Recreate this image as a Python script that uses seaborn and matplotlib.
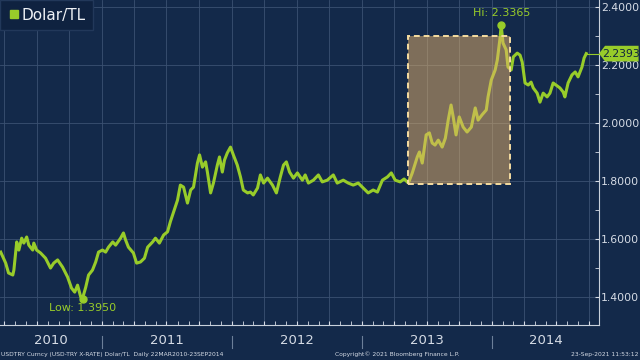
import numpy as np
import pandas as pd
import seaborn as sns
import matplotlib.pyplot as plt
import matplotlib.dates as mdates
from matplotlib.lines import Line2D
from matplotlib.patches import Rectangle, Polygon
from matplotlib.ticker import MultipleLocator, FormatStrFormatter

# USD/TRY
dates = [
    "2010-03-22", "2010-04-05", "2010-04-13", "2010-04-25", "2010-04-28", "2010-05-06", "2010-05-12",
    "2010-05-20", "2010-05-26", "2010-06-03", "2010-06-09", "2010-06-20", "2010-06-23", "2010-07-01",
    "2010-07-12", "2010-07-26", "2010-08-09", "2010-08-18", "2010-08-29", "2010-09-12", "2010-09-26",
    "2010-10-07", "2010-10-16", "2010-10-24", "2010-11-02", "2010-11-07", "2010-11-16", "2010-11-24",
    "2010-12-05", "2010-12-14", "2010-12-22", "2011-01-02", "2011-01-11", "2011-01-19", "2011-01-31",
    "2011-02-08", "2011-02-22", "2011-03-02", "2011-03-08", "2011-03-16", "2011-03-30", "2011-04-08",
    "2011-04-19", "2011-04-30", "2011-05-09", "2011-05-23", "2011-05-31", "2011-06-11", "2011-06-23",
    "2011-07-04", "2011-07-12", "2011-07-21", "2011-08-01", "2011-08-09", "2011-08-18", "2011-08-29",
    "2011-09-07", "2011-09-15", "2011-09-26", "2011-10-02", "2011-10-10", "2011-10-19", "2011-10-24",
    "2011-11-02", "2011-11-10", "2011-11-21", "2011-11-27", "2011-12-05", "2011-12-11", "2011-12-19",
    "2011-12-28", "2012-01-05", "2012-01-16", "2012-01-25", "2012-02-02", "2012-02-14", "2012-02-22",
    "2012-03-01", "2012-03-13", "2012-03-21", "2012-03-30", "2012-04-10", "2012-04-24", "2012-05-05",
    "2012-05-16", "2012-05-25", "2012-06-02", "2012-06-11", "2012-06-22", "2012-07-03", "2012-07-17",
    "2012-07-25", "2012-08-03", "2012-08-17", "2012-08-31", "2012-09-11", "2012-09-25", "2012-10-12",
    "2012-10-23", "2012-11-09", "2012-11-23", "2012-12-07", "2012-12-21", "2013-01-04", "2013-01-18",
    "2013-02-01", "2013-02-13", "2013-02-27", "2013-03-13", "2013-03-24", "2013-04-04", "2013-04-18",
    "2013-04-29", "2013-05-11", "2013-05-22", "2013-06-05", "2013-06-11", "2013-06-19", "2013-06-30",
    "2013-07-09", "2013-07-17", "2013-07-25", "2013-08-03", "2013-08-14", "2013-08-23", "2013-08-31",
    "2013-09-08", "2013-09-14", "2013-09-22", "2013-10-01", "2013-10-12", "2013-10-23", "2013-11-04",
    "2013-11-15", "2013-11-23", "2013-12-04", "2013-12-16", "2013-12-21", "2013-12-30", "2014-01-10",
    "2014-01-16", "2014-01-23", "2014-01-27", "2014-02-01", "2014-02-10", "2014-02-15", "2014-02-24",
    "2014-03-02", "2014-03-13", "2014-03-21", "2014-03-27", "2014-03-30", "2014-04-04", "2014-04-13",
    "2014-04-21", "2014-04-27", "2014-05-08", "2014-05-16", "2014-05-25", "2014-06-05", "2014-06-13",
    "2014-06-22", "2014-06-30", "2014-07-11", "2014-07-20", "2014-07-25", "2014-08-03", "2014-08-14",
    "2014-08-23", "2014-08-31", "2014-09-11", "2014-09-17", "2014-09-23",
]
rates = [
    1.555, 1.517, 1.483, 1.476, 1.493, 1.590, 1.562,
    1.603, 1.586, 1.607, 1.579, 1.562, 1.586, 1.562,
    1.552, 1.534, 1.500, 1.517, 1.528, 1.503, 1.469,
    1.431, 1.417, 1.441, 1.400, 1.395, 1.434, 1.476,
    1.493, 1.521, 1.555, 1.562, 1.555, 1.572, 1.590,
    1.579, 1.603, 1.621, 1.597, 1.572, 1.552, 1.517,
    1.521, 1.534, 1.572, 1.590, 1.603, 1.586, 1.614,
    1.625, 1.660, 1.693, 1.734, 1.786, 1.779, 1.724,
    1.769, 1.779, 1.862, 1.890, 1.848, 1.866, 1.831,
    1.759, 1.793, 1.855, 1.883, 1.831, 1.872, 1.897,
    1.917, 1.890, 1.855, 1.814, 1.769, 1.759, 1.762,
    1.752, 1.776, 1.821, 1.793, 1.810, 1.786, 1.759,
    1.814, 1.855, 1.866, 1.831, 1.810, 1.828, 1.803,
    1.821, 1.793, 1.803, 1.821, 1.797, 1.803, 1.821,
    1.793, 1.803, 1.793, 1.786, 1.793, 1.776, 1.759,
    1.769, 1.762, 1.803, 1.814, 1.828, 1.803, 1.797,
    1.807, 1.793, 1.828, 1.883, 1.900, 1.862, 1.959,
    1.966, 1.931, 1.924, 1.941, 1.917, 1.948, 2.010,
    2.062, 2.021, 1.959, 2.021, 1.986, 1.969, 1.986,
    2.052, 2.010, 2.028, 2.045, 2.090, 2.148, 2.183,
    2.217, 2.286, 2.3365, 2.276, 2.252, 2.193, 2.183,
    2.228, 2.241, 2.234, 2.210, 2.183, 2.138, 2.131,
    2.141, 2.121, 2.103, 2.072, 2.103, 2.090, 2.103,
    2.138, 2.131, 2.121, 2.107, 2.090, 2.138, 2.166,
    2.176, 2.159, 2.193, 2.224, 2.2393,
]

box_start, box_end = "2013-05-10", "2014-02-20"
box_low, box_high = 1.79, 2.30
year_labels = ["2010", "2011", "2012", "2013", "2014"]

bg = "#13294a"
green = "#98cc2a"
txt = "#d6dce6"

df = pd.DataFrame({"date": pd.to_datetime(dates), "rate": rates})

fig = plt.figure(figsize=(6.4, 3.6), dpi=100, facecolor=bg)
ax = fig.add_axes([0, 0.097, 0.936, 0.903])
ax.set_facecolor(bg)

sns.lineplot(data=df, x="date", y="rate", ax=ax, color=green, linewidth=2.2, zorder=3)

xmin, xmax = pd.Timestamp("2010-03-20"), pd.Timestamp("2014-10-29")
ax.set_xlim(xmin, xmax)
ax.set_ylim(1.3034, 2.4241)

# grid
ax.xaxis.set_major_locator(mdates.MonthLocator(bymonth=[1, 4, 7, 10]))
ax.xaxis.set_minor_locator(mdates.MonthLocator())
ax.yaxis.set_major_locator(MultipleLocator(0.2))
ax.yaxis.set_minor_locator(MultipleLocator(0.1))
ax.yaxis.set_major_formatter(FormatStrFormatter("%.4f"))
ax.grid(True, which="major", color="#3b5172", linewidth=0.6)
ax.tick_params(axis="x", which="both", direction="in", length=3, color=txt, labelbottom=False)
ax.yaxis.tick_right()
ax.tick_params(axis="y", which="both", direction="in", length=3, color=txt,
               labelcolor=txt, labelsize=7.8, pad=1.5)
ax.set_xlabel("")
ax.set_ylabel("")
for s in ["top", "left"]:
    ax.spines[s].set_visible(False)
for s in ["right", "bottom"]:
    ax.spines[s].set_color("#c9d1dc")
    ax.spines[s].set_linewidth(0.8)

# highlight box
x0, x1 = mdates.date2num(pd.Timestamp(box_start)), mdates.date2num(pd.Timestamp(box_end))
ax.add_patch(Rectangle((x0, box_low), x1 - x0, box_high - box_low, facecolor="#e9b46a",
                       alpha=0.5, edgecolor="none", zorder=4))
ax.add_patch(Rectangle((x0, box_low), x1 - x0, box_high - box_low, facecolor="none",
                       edgecolor="#f6dca0", linestyle=(0, (3, 2)), linewidth=1.4, zorder=5))

# hi / low markers
hi_i = int(np.argmax(rates))
lo_i = int(np.argmin(rates))
ax.plot(df["date"][hi_i], rates[hi_i], "o", color=green, markersize=5, zorder=6)
ax.plot(df["date"][lo_i], rates[lo_i], "o", color=green, markersize=5, zorder=6)
ax.annotate(f"Hi: {rates[hi_i]:.4f}", (df["date"][hi_i], rates[hi_i]), xytext=(0, 5),
            textcoords="offset points", ha="center", va="bottom", color=green, fontsize=8)
ax.annotate(f"Low: {rates[lo_i]:.4f}", (df["date"][lo_i], rates[lo_i]), xytext=(0, -3),
            textcoords="offset points", ha="center", va="top", color=green, fontsize=8)

# last value tag
last = rates[-1]
ax.plot([df["date"].iloc[-1], xmax], [last, last], color=green, linewidth=0.8, clip_on=False, zorder=6)
trans = ax.get_yaxis_transform()
tag = Polygon([(1.0, last), (1.01, last + 0.027), (1.066, last + 0.027), (1.066, last - 0.027),
               (1.01, last - 0.027)], closed=True, transform=trans, facecolor=green,
              edgecolor="none", clip_on=False, zorder=7)
ax.add_patch(tag)
ax.text(1.037, last, f"{last:.4f}", transform=trans, ha="center", va="center",
        fontsize=7.8, color="#10233f", zorder=8, clip_on=False)

# year labels and separators below axis
xtrans = ax.get_xaxis_transform()
lo_num, hi_num = mdates.date2num(xmin), mdates.date2num(xmax)
for i, yl in enumerate(year_labels):
    a = max(mdates.date2num(pd.Timestamp(f"{yl}-01-01")), lo_num)
    b = min(mdates.date2num(pd.Timestamp(f"{int(yl) + 1}-01-01")), hi_num)
    ax.text((a + b) / 2, -0.047, yl, transform=xtrans, ha="center", va="center",
            color=txt, fontsize=9.5)
    if i > 0:
        ax.plot([a, a], [-0.033, -0.07], transform=xtrans, color="#6c7f99",
                linewidth=0.8, clip_on=False)

# legend
h = Line2D([], [], marker="s", linestyle="none", color=green, markersize=6)
leg = ax.legend([h], ["Dolar/TL"], loc="upper left", bbox_to_anchor=(0, 1), borderaxespad=0,
                frameon=True, fancybox=False, facecolor="#0f2240", edgecolor="#22385a",
                fontsize=11, handletextpad=0.1, handlelength=0.8, borderpad=0.5)
leg.get_frame().set_alpha(1)
for t in leg.get_texts():
    t.set_color("#eef1f5")

# footer
fig.text(0.002, 0.008, "USDTRY Curncy (USD-TRY X-RATE) Dolar/TL  Daily 22MAR2010-23SEP2014",
         fontsize=4.3, color=txt, ha="left", va="bottom")
fig.text(0.62, 0.008, "Copyright\u00a9 2021 Bloomberg Finance L.P.", fontsize=4.3, color=txt,
         ha="center", va="bottom")
fig.text(0.997, 0.008, "23-Sep-2021 11:53:12", fontsize=4.3, color=txt, ha="right", va="bottom")

fig.savefig("out.png", dpi=100, facecolor=bg)
